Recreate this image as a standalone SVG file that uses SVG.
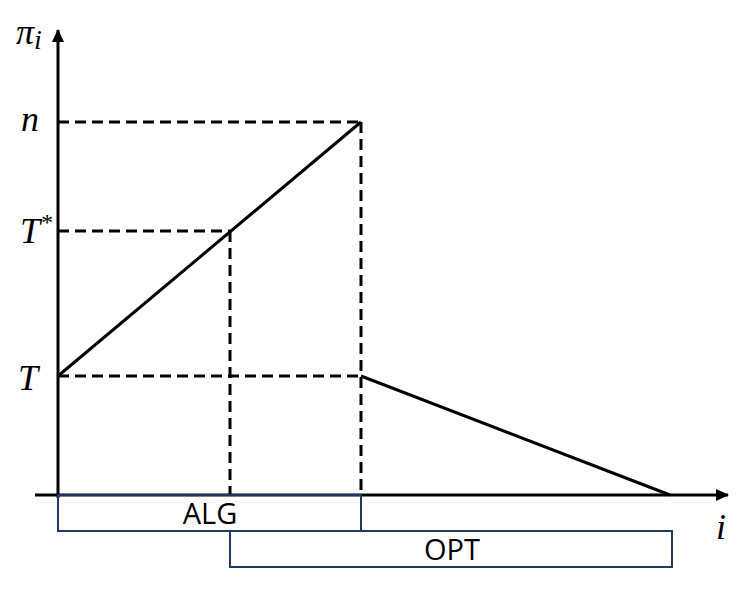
<svg xmlns="http://www.w3.org/2000/svg" width="747" height="592" viewBox="0 0 747 592">
<style>
.ax{stroke:#000;stroke-width:3;fill:none}
.dash{stroke:#000;stroke-width:3;stroke-dasharray:11 6;fill:none}
.box{stroke:#1f3864;stroke-width:2;fill:none}
.m{font-family:"Liberation Serif","DejaVu Serif",serif;font-style:italic;font-size:36px;fill:#000}
.t{font-family:"Open Sans","Liberation Sans",sans-serif;font-size:29px;fill:#000;text-anchor:middle}
</style>
<defs>
<marker id="ah" markerWidth="14" markerHeight="14" refX="12" refY="6" orient="auto" markerUnits="userSpaceOnUse">
<path d="M0,0 L13,6 L0,12 Z" fill="#000"/>
</marker>
</defs>
<g id="connectors">
<line class="ax" x1="58" y1="498" x2="58" y2="30" marker-end="url(#ah)"/>
<line class="ax" x1="35" y1="495" x2="728" y2="495" marker-end="url(#ah)"/>
<line class="dash" x1="58" y1="122" x2="361" y2="122"/>
<line class="dash" x1="58" y1="231" x2="230" y2="231"/>
<line class="dash" x1="58" y1="376" x2="361" y2="376"/>
<line class="dash" x1="230" y1="231" x2="230" y2="495"/>
<line class="dash" x1="361" y1="122" x2="361" y2="495"/>
<line class="ax" x1="58" y1="376" x2="361" y2="122"/>
<line class="ax" x1="361" y1="376" x2="670" y2="495"/>
</g>
<g id="labels">
<text class="m" x="16" y="44">π<tspan font-size="28" dy="5">i</tspan></text>
<text class="m" x="21" y="131">n</text>
<text class="m" x="20" y="243">T<tspan font-size="24" dy="-13">*</tspan></text>
<text class="m" x="18" y="390">T</text>
<text class="m" x="716" y="539">i</text>
</g>
<g id="ALG">
<rect class="box" x="58" y="495" width="303" height="36"/>
<text class="t" x="210" y="524">ALG</text>
</g>
<g id="OPT">
<rect class="box" x="230" y="531" width="442" height="36"/>
<text class="t" x="452" y="560">OPT</text>
</g>
</svg>
